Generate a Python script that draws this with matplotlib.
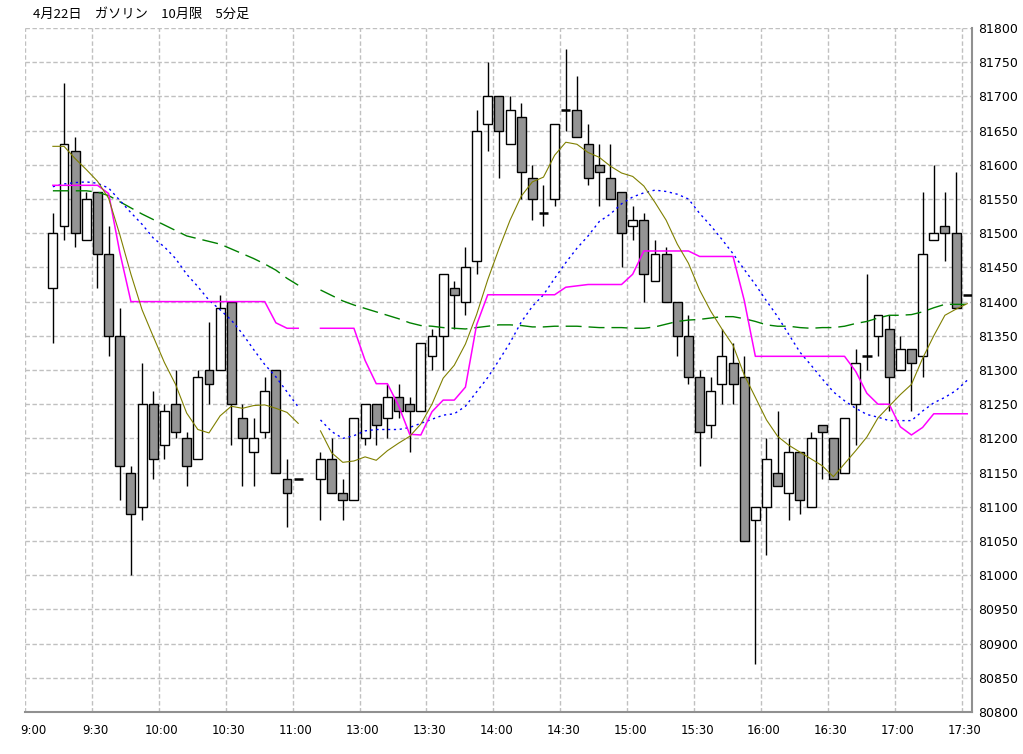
import numpy as np
import matplotlib
matplotlib.use("Agg")
import matplotlib.pyplot as plt
from matplotlib.transforms import ScaledTranslation

plt.rcParams['font.family'] = ['DejaVu Sans', 'Noto Sans CJK JP']

title = "4月22日　ガソリン　10月限　5分足"

# 5-minute slots (index on a session axis; slot 25 is the lunch gap)
slots = list(range(2, 25)) + list(range(26, 85))

opens = [81420, 81510, 81620, 81490, 81560, 81470, 81350, 81150, 81100, 81250,
         81190, 81250, 81200, 81170, 81300, 81300, 81400, 81230, 81180, 81210,
         81300, 81140, 81140,
         81140, 81170, 81120, 81110, 81200, 81250, 81230, 81260, 81250, 81240,
         81320, 81350, 81420, 81400, 81460, 81660, 81700, 81630, 81670, 81580,
         81530, 81550, 81680, 81680, 81630, 81600, 81580, 81560, 81510, 81520,
         81430, 81470, 81400, 81350, 81290, 81220, 81280, 81310, 81290, 81080,
         81100, 81150, 81120, 81180, 81100, 81220, 81200, 81150, 81250, 81320,
         81350, 81360, 81300, 81330, 81320, 81490, 81510, 81500, 81410]
highs = [81530, 81720, 81640, 81560, 81560, 81510, 81390, 81160, 81310, 81270,
         81250, 81300, 81210, 81300, 81370, 81410, 81400, 81250, 81230, 81290,
         81300, 81170, 81140,
         81180, 81200, 81140, 81230, 81250, 81250, 81280, 81280, 81260, 81340,
         81360, 81440, 81430, 81480, 81680, 81750, 81700, 81700, 81690, 81600,
         81570, 81660, 81770, 81730, 81660, 81630, 81630, 81560, 81540, 81530,
         81490, 81480, 81400, 81380, 81300, 81290, 81360, 81340, 81320, 81100,
         81200, 81240, 81200, 81180, 81210, 81220, 81200, 81230, 81330, 81440,
         81380, 81380, 81350, 81330, 81560, 81600, 81560, 81590, 81410]
lows = [81340, 81490, 81480, 81490, 81420, 81320, 81110, 81000, 81080, 81140,
        81170, 81200, 81130, 81170, 81250, 81300, 81190, 81130, 81130, 81200,
        81150, 81070, 81140,
        81080, 81120, 81080, 81110, 81190, 81190, 81200, 81230, 81180, 81240,
        81300, 81300, 81360, 81380, 81440, 81620, 81580, 81630, 81550, 81520,
        81510, 81540, 81650, 81640, 81570, 81540, 81550, 81450, 81490, 81400,
        81430, 81400, 81320, 81280, 81160, 81200, 81250, 81250, 81050, 80870,
        81030, 81130, 81080, 81090, 81100, 81140, 81140, 81150, 81190, 81300,
        81320, 81240, 81300, 81240, 81290, 81490, 81460, 81390, 81410]
closes = [81500, 81630, 81500, 81550, 81470, 81350, 81160, 81090, 81250, 81170,
          81240, 81210, 81160, 81290, 81280, 81390, 81250, 81200, 81200, 81270,
          81150, 81120, 81140,
          81170, 81120, 81110, 81230, 81250, 81220, 81260, 81240, 81240, 81340,
          81350, 81440, 81410, 81450, 81650, 81700, 81650, 81680, 81590, 81550,
          81530, 81660, 81680, 81640, 81580, 81590, 81550, 81500, 81520, 81440,
          81470, 81400, 81350, 81290, 81210, 81270, 81320, 81280, 81050, 81100,
          81170, 81130, 81180, 81110, 81200, 81210, 81140, 81230, 81310, 81320,
          81380, 81290, 81330, 81310, 81470, 81500, 81500, 81390, 81410]

# indicator lines, one value per slot (None = lunch gap at slot 25)
line_slots = list(range(2, 85))
olive_line = [81627, 81627, 81609, 81593, 81576, 81551, 81498, 81440, 81388, 81349,
              81311, 81279, 81237, 81213, 81208, 81233, 81247, 81244, 81248, 81249,
              81244, 81238, 81222, None,
              81211, 81179, 81165, 81167, 81173, 81168, 81182, 81193, 81203, 81221,
              81250, 81288, 81307, 81338, 81381, 81432, 81477, 81519, 81554, 81575,
              81582, 81614, 81633, 81630, 81618, 81611, 81598, 81588, 81583, 81569,
              81545, 81519, 81484, 81456, 81417, 81386, 81360, 81336, 81293, 81260,
              81227, 81203, 81190, 81180, 81170, 81160, 81144, 81163, 81182, 81202,
              81230, 81247, 81264, 81279, 81317, 81350, 81380, 81389, 81397]
magenta_line = [81570, 81570, 81570, 81570, 81570, 81558, 81472, 81400, 81400, 81400,
                81400, 81400, 81400, 81400, 81400, 81400, 81400, 81400, 81400, 81400,
                81369, 81361, 81361, None,
                81361, 81361, 81361, 81361, 81314, 81280, 81280, 81248, 81206, 81205,
                81239, 81256, 81256, 81275, 81366, 81410, 81410, 81410, 81410, 81410,
                81410, 81410, 81421, 81423, 81425, 81425, 81425, 81425, 81440, 81474,
                81474, 81474, 81474, 81474, 81466, 81466, 81466, 81466, 81402, 81320,
                81320, 81320, 81320, 81320, 81320, 81320, 81320, 81320, 81298, 81266,
                81250, 81250, 81217, 81205, 81216, 81236, 81236, 81236, 81236]
blue_line = [81568, 81572, 81574, 81575, 81573, 81566, 81548, 81530, 81513, 81493,
             81480, 81463, 81440, 81422, 81402, 81388, 81373, 81353, 81330, 81308,
             81290, 81268, 81246, None,
             81227, 81210, 81200, 81204, 81211, 81213, 81213, 81213, 81216, 81222,
             81228, 81234, 81236, 81247, 81268, 81289, 81314, 81340, 81370, 81393,
             81410, 81434, 81457, 81478, 81496, 81517, 81528, 81543, 81553, 81559,
             81563, 81561, 81557, 81550, 81529, 81511, 81491, 81470, 81447, 81425,
             81401, 81378, 81352, 81326, 81307, 81287, 81268, 81255, 81244, 81235,
             81231, 81226, 81226, 81226, 81240, 81252, 81260, 81270, 81285]
green_line = [81562, 81562, 81562, 81562, 81560, 81555, 81546, 81537, 81528, 81520,
              81512, 81504, 81496, 81492, 81488, 81484, 81477, 81470, 81463, 81455,
              81446, 81434, 81424, None,
              81417, 81409, 81401, 81395, 81390, 81385, 81380, 81375, 81369, 81365,
              81364, 81362, 81361, 81360, 81362, 81364, 81366, 81366, 81365, 81363,
              81363, 81364, 81364, 81364, 81363, 81362, 81362, 81362, 81361, 81361,
              81363, 81367, 81371, 81373, 81374, 81376, 81378, 81378, 81375, 81371,
              81366, 81364, 81364, 81362, 81361, 81362, 81362, 81364, 81368, 81371,
              81376, 81380, 81380, 81381, 81385, 81391, 81396, 81396, 81396]

tick_slots = [0, 6, 12, 18, 24, 30, 36, 42, 48, 54, 60, 66, 72, 78, 84]
tick_labels = ["9:00", "9:30", "10:00", "10:30", "11:00", "13:00", "13:30", "14:00",
               "14:30", "15:00", "15:30", "16:00", "16:30", "17:00", "17:30"]
y_ticks = list(range(80800, 81801, 50))

W, H = 1023, 754
fig = plt.figure(figsize=(W / 100, H / 100), dpi=100)
fig.patch.set_facecolor("white")
ax = fig.add_axes([25 / W, (H - 712) / H, (972 - 25) / W, (712 - 28) / H])

ax.set_xlim(0, 84.93)
ax.set_ylim(80800, 81800)

# grid
grid_kw = dict(color="#c0c0c0", lw=1.0, dashes=(3.2, 1.8), zorder=0)
for yv in y_ticks:
    ax.axhline(yv, **grid_kw)
for xv in tick_slots:
    ax.axvline(xv, **grid_kw)

# candles
xs = np.array(slots) + 0.5
o = np.array(opens); h = np.array(highs); l = np.array(lows); c = np.array(closes)
ax.vlines(xs, l, h, color="black", lw=1.0, zorder=2)
up = c > o
down = c < o
doji = c == o
ax.bar(xs[up], (c - o)[up], bottom=o[up], width=0.8, color="white",
       edgecolor="black", linewidth=1.0, zorder=3)
ax.bar(xs[down], (o - c)[down], bottom=c[down], width=0.8, color="#949494",
       edgecolor="black", linewidth=1.0, zorder=3)
ax.hlines(c[doji], xs[doji] - 0.42, xs[doji] + 0.42, color="black", lw=1.8, zorder=3)

# indicator lines
lx = np.array(line_slots) + 0.5
def arr(v):
    return np.array([np.nan if e is None else e for e in v], dtype=float)

ax.plot(lx, arr(green_line), color="#008000", lw=1.0, dashes=(11.5, 5), zorder=4)
ax.plot(lx, arr(blue_line), color="#0000ff", lw=1.0, dashes=(1.6, 2.6), zorder=4)
ax.plot(lx, arr(magenta_line), color="#ff00ff", lw=1.1, zorder=4)
ax.plot(lx, arr(olive_line), color="#808000", lw=0.8, zorder=4)

# axes styling
for s in ["left", "top"]:
    ax.spines[s].set_visible(False)
for s in ["right", "bottom"]:
    ax.spines[s].set_color("#909090")
    ax.spines[s].set_linewidth(1.5)

ax.yaxis.tick_right()
ax.set_yticks(y_ticks)
ax.set_yticklabels([str(v) for v in y_ticks], fontsize=9)
ax.tick_params(axis="y", length=0, pad=4.5)
ax.set_xticks(tick_slots)
ax.set_xticklabels(tick_labels, fontsize=8.5)
ax.tick_params(axis="x", length=0, pad=9)
for i, lab in enumerate(ax.get_xticklabels()):
    dx = 8 if i == 0 else 3
    lab.set_transform(lab.get_transform() + ScaledTranslation(dx / 100, 0, fig.dpi_scale_trans))

fig.text(33 / W, 1 - 14 / H, title, fontsize=9.5, va="center", ha="left",
         family=["Noto Sans CJK JP", "DejaVu Sans"])

fig.savefig("out.png", dpi=100, facecolor="white")
